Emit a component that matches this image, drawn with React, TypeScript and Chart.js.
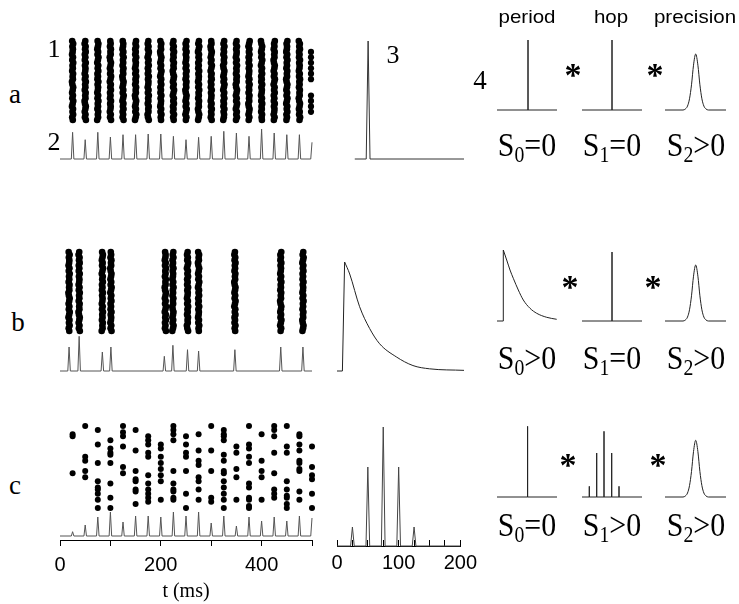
import React, { useEffect, useRef } from 'react';
import { Chart, registerables } from 'chart.js';
Chart.register(...registerables);

// ---------------- DATA ----------------
// time axis (ms) and lag axis (ms)
const timeTicks = [0, 100, 200, 300, 400, 500];
const timeLabels = [0, 200, 400];
const lagTicks = [0, 25, 50, 75, 100, 125, 150, 175, 200];
const lagLabels = [0, 100, 200];

// hand-read spike jitter (ms) used for the dense raster columns
const jitterMs = [0.4, -0.8, 1.1, -0.3, 0.9, -1.2, 0.2, 1.4, -0.6, 0.7, -1.0, 0.3, 1.2, -0.4, -1.3,
  0.6, 0.0, 1.0, -0.9, 0.5, -0.2, 1.3, -0.7, 0.8, -1.1, 0.1, 0.6, -0.5, 1.2, -0.8];

// row a
const aTrialCount = 30;
const aColumnTimes = [25, 50, 75, 100, 125, 150, 175, 200, 225, 250, 275, 300, 325, 350, 375, 400, 425, 450, 475];
const aTailTime = 498;
const aTailTrials = [25, 23, 21, 19, 17, 15, 9, 7, 5, 3];
const aPsthTimes = [25, 50, 75, 100, 125, 150, 175, 200, 225, 250, 275, 300, 325, 350, 375, 400, 425, 450, 475, 500];
const aPsthRates = [26.7, 19.3, 26.7, 22, 24.3, 24.3, 25, 25, 22.7, 19.3, 21.7, 22.7, 27.7, 26, 22.7, 30, 26, 24.3, 24.3, 16.7];
const aAutoLags = [28, 46, 49, 52, 200];
const aAutoValues = [0, 0, 1, 0, 0];

// row b
const bTrialCount = 30;
const bColumnTimes = [18, 38, 84, 101, 209, 224, 253, 275, 347, 438, 482];
const bPsthTimes = [18, 38, 84, 101, 207, 224, 253, 275, 347, 438, 482];
const bPsthRates = [24, 34.7, 19, 24, 14.7, 25.7, 21.3, 20, 21.3, 24, 24];
const bAutoLags = [0, 8.5, 12, 20, 35.6, 51.4, 67.1, 93.3, 119.6, 145.8, 200];
const bAutoValues = [0, 0, 1, 0.89, 0.59, 0.39, 0.25, 0.13, 0.05, 0.02, 0.006];

// row c
const cColumnTimes = [25, 50, 75, 100, 125, 150, 175, 200, 225, 250, 275, 300, 325, 350, 375, 400, 425, 450, 475, 500];
const cTrials = [
  [36, 35, 17],
  [40, 25, 23, 18, 15],
  [38, 31, 22, 13, 10, 9, 7, 4, 0],
  [33, 29, 27, 26, 22, 12, 5, 0],
  [40, 37, 35, 30, 20, 17],
  [38, 28, 18, 14, 13, 9, 8, 2],
  [35, 33, 31, 27, 25, 16, 12, 9, 7, 5, 3],
  [31, 29, 25, 22, 19, 16, 13, 4],
  [40, 38, 36, 33, 18, 12, 9, 8, 5, 4],
  [35, 31, 27, 25, 18, 7, 0],
  [36, 28, 23, 21, 15, 13, 9, 4],
  [40, 28, 18, 5, 3],
  [38, 36, 35, 33, 26, 23, 18, 17, 13, 10, 7, 4, 0],
  [30, 27, 19, 15, 4],
  [40, 31, 29, 25, 22, 12, 10, 5, 4, 1, 0],
  [36, 23, 18, 15, 4],
  [40, 38, 35, 27, 17, 9, 7, 5],
  [40, 30, 27, 13, 9, 6, 5, 2, 0],
  [36, 35, 31, 28, 23, 22, 19, 18, 8, 4],
  [30, 20, 16, 14, 7, 0],
];
const cPsthRates = [4.3, 11, 19, 24, 14, 20, 20, 19, 24, 20, 24, 13, 20, 10, 19, 15, 19, 15, 20, 18];
const cAutoLags = [25, 50, 75, 100, 125];
const cAutoValues = [19, 79, 119, 79, 19];

// decomposition panels (lag in arbitrary units 0..60, height 0..72)
const periodSpikeLag = [31, 30.6];          // rows a, c
const periodSpikeHeight = [70, 70.7];
const periodDecayLags = [6.3, 9.7, 13, 16.3, 21.3, 26.3, 33, 39.7, 49.7, 59.7]; // row b
const periodDecayValues = [71, 61, 51, 42.7, 31, 21, 12.7, 7.7, 3.7, 1.7];
const hopSpikeLagAB = 30;
const hopSpikeHeightA = 70;
const hopSpikeHeightB = 69;
const hopCLags = [7.3, 14.7, 22, 29.7, 37];
const hopCHeights = [10.7, 44, 65.7, 44, 10.7];
const precisionLags = [0, 18, 20.5, 22.5, 24.5, 26.5, 28.5, 30.7, 32.9, 34.9, 36.9, 38.9, 40.9, 43.4, 61];
const precisionShape = [0, 0.0, 0.02, 0.07, 0.2, 0.45, 0.8, 1, 0.8, 0.45, 0.2, 0.07, 0.02, 0, 0];
const precisionAmp = [56, 56, 56.7];

// ---------------- HELPERS ----------------
const SERIF = '"Liberation Serif", "Times New Roman", serif';
const SANS = '"Liberation Sans", Arial, sans-serif';
const P = 6;

type Pt = { x: number; y: number };

function line(data: Pt[], color = '#333', extra: any = {}) {
  return { data, showLine: true, borderColor: color, borderWidth: 1, pointRadius: 0, tension: 0, clip: false, ...extra };
}
function dots(data: Pt[], r: number) {
  return { data, showLine: false, pointRadius: r, pointBackgroundColor: '#000', backgroundColor: '#000', pointBorderWidth: 0, borderWidth: 0, clip: false };
}
function peaks(times: number[], heights: number[], hw: number, xMin: number, xMax: number): Pt[] {
  const pts: Pt[] = [{ x: xMin, y: 0 }];
  times.forEach((t, i) => {
    pts.push({ x: Math.max(xMin, t - hw), y: 0 }, { x: t, y: heights[i] });
    if (t + hw <= xMax) pts.push({ x: t + hw, y: 0 });
  });
  if (times[times.length - 1] + hw <= xMax) pts.push({ x: xMax, y: 0 });
  return pts;
}
function columns(times: number[], nTrials: number): Pt[] {
  const pts: Pt[] = [];
  times.forEach((t, i) => {
    for (let k = 0; k < nTrials; k++) pts.push({ x: t + jitterMs[(k + 7 * i) % jitterMs.length], y: k });
  });
  return pts;
}
function spike(lag: number, h: number, xMax: number): Pt[] {
  return [{ x: 0, y: 0 }, { x: lag, y: 0 }, { x: lag, y: h }, { x: lag, y: 0 }, { x: xMax, y: 0 }];
}
function multiSpikes(lags: number[], hs: number[], xMax: number): Pt[] {
  const pts: Pt[] = [{ x: 0, y: 0 }];
  lags.forEach((l, i) => pts.push({ x: l, y: 0 }, { x: l, y: hs[i] }, { x: l, y: 0 }));
  pts.push({ x: xMax, y: 0 });
  return pts;
}
function shape(xs: number[], ys: number[], amp: number): Pt[] {
  return xs.map((x, i) => ({ x, y: ys[i] * amp }));
}

type AxisDef = { ticks: number[]; labels: number[]; tickLen: number; pad: number; height: number; side: number; title?: string };
type PanelDef = {
  id: string; x0: number; x1: number; top: number; bottom: number;
  xr: [number, number]; yr: [number, number]; datasets: any[]; axis?: AxisDef;
};

function Panel({ def }: { def: PanelDef }) {
  const ref = useRef<HTMLCanvasElement>(null);
  const side = def.axis ? def.axis.side : P;
  const w = def.x1 - def.x0 + 2 * side;
  const h = def.bottom - def.top + P + (def.axis ? def.axis.height : P);
  useEffect(() => {
    const ax = def.axis;
    const xScale: any = ax
      ? {
          type: 'linear', min: def.xr[0], max: def.xr[1], display: true,
          afterFit: (s: any) => { s.height = ax.height; },
          afterBuildTicks: (s: any) => { s.ticks = ax.ticks.map((v) => ({ value: v })); },
          grid: { display: true, drawOnChartArea: false, drawTicks: true, tickLength: ax.tickLen, color: '#000', lineWidth: 1 },
          border: { display: true, color: '#000', width: 1 },
          ticks: {
            autoSkip: false, maxRotation: 0, padding: ax.pad, color: '#000',
            font: { family: SANS, size: 20 },
            callback: (v: any) => (ax.labels.includes(Number(v)) ? String(v) : ''),
          },
          title: ax.title
            ? { display: true, text: ax.title, color: '#000', font: { family: SERIF, size: 20 }, padding: { top: 0, bottom: 0 } }
            : { display: false },
        }
      : { type: 'linear', min: def.xr[0], max: def.xr[1], display: false };
    const chart = new Chart(ref.current as HTMLCanvasElement, {
      type: 'scatter',
      data: { datasets: def.datasets },
      options: {
        responsive: false,
        animation: false,
        devicePixelRatio: 1,
        events: [],
        layout: { padding: { left: side, right: side, top: P, bottom: ax ? 0 : P } },
        plugins: { legend: { display: false }, tooltip: { enabled: false } },
        scales: {
          x: xScale,
          y: { type: 'linear', min: def.yr[0], max: def.yr[1], display: false },
        },
      } as any,
    });
    return () => chart.destroy();
  }, []);
  return (
    <canvas
      ref={ref}
      width={w}
      height={h}
      style={{ position: 'absolute', left: def.x0 - side, top: def.top - P, width: w, height: h }}
    />
  );
}

function Txt({ x, y, size, family = SERIF, children, weight = 'normal', sx = 1 }: any) {
  return (
    <div
      style={{
        position: 'absolute', left: x, top: y, transform: `translate(-50%, -50%) scaleX(${sx})`,
        fontFamily: family, fontSize: size, lineHeight: 1, whiteSpace: 'nowrap', color: '#000', fontWeight: weight,
      }}
    >
      {children}
    </div>
  );
}

function SLabel({ x, y, idx, rel }: any) {
  return (
    <Txt x={x} y={y} size={34} sx={0.88}>
      S<span style={{ fontSize: '0.66em', position: 'relative', top: '0.28em' }}>{idx}</span>{rel}0
    </Txt>
  );
}

// ---------------- PANELS ----------------
const PSTH_HW = 2.5;
const panels: PanelDef[] = [
  // row a
  { id: 'rasterA', x0: 60, x1: 312, top: 41, bottom: 120, xr: [0, 500], yr: [0, aTrialCount - 1],
    datasets: [dots(columns(aColumnTimes, aTrialCount), 3.3), dots(aTailTrials.map((k) => ({ x: aTailTime, y: k })), 3.1)] },
  { id: 'psthA', x0: 60, x1: 312, top: 129, bottom: 159, xr: [0, 500], yr: [0, 30],
    datasets: [line(peaks(aPsthTimes, aPsthRates, PSTH_HW, 0, 500), '#555')] },
  { id: 'autoA', x0: 337, x1: 464, top: 41, bottom: 159, xr: [0, 200], yr: [0, 1],
    datasets: [line(aAutoLags.map((x, i) => ({ x, y: aAutoValues[i] })), '#333')] },
  { id: 'perA', x0: 497, x1: 557, top: 38, bottom: 110, xr: [0, 60], yr: [0, 72],
    datasets: [line(spike(periodSpikeLag[0], periodSpikeHeight[0], 60), '#222')] },
  { id: 'hopA', x0: 582, x1: 642, top: 38, bottom: 110, xr: [0, 60], yr: [0, 72],
    datasets: [line(spike(hopSpikeLagAB, hopSpikeHeightA, 60), '#222')] },
  { id: 'preA', x0: 665, x1: 726, top: 38, bottom: 110, xr: [0, 61], yr: [0, 72],
    datasets: [line(shape(precisionLags, precisionShape, precisionAmp[0]), '#222', { cubicInterpolationMode: 'monotone' })] },

  // row b
  { id: 'rasterB', x0: 60, x1: 312, top: 252, bottom: 331, xr: [0, 500], yr: [0, bTrialCount - 1],
    datasets: [dots(columns(bColumnTimes, bTrialCount), 3.3)] },
  { id: 'psthB', x0: 60, x1: 312, top: 341, bottom: 371, xr: [0, 500], yr: [0, 30],
    datasets: [line(peaks(bPsthTimes, bPsthRates, PSTH_HW, 0, 500), '#555')] },
  { id: 'autoB', x0: 337, x1: 464, top: 262, bottom: 371, xr: [0, 200], yr: [0, 1],
    datasets: [line(bAutoLags.slice(0, 3).map((x, i) => ({ x, y: bAutoValues[i] })), '#222'),
      line(bAutoLags.slice(2).map((x, i) => ({ x, y: bAutoValues[i + 2] })), '#222', { cubicInterpolationMode: 'monotone' })] },
  { id: 'perB', x0: 497, x1: 557, top: 249, bottom: 321, xr: [0, 60], yr: [0, 72],
    datasets: [line([{ x: 0, y: 0 }, { x: periodDecayLags[0], y: 0 }, { x: periodDecayLags[0], y: periodDecayValues[0] }], '#222'),
      line(periodDecayLags.map((x, i) => ({ x, y: periodDecayValues[i] })), '#222', { cubicInterpolationMode: 'monotone' })] },
  { id: 'hopB', x0: 582, x1: 642, top: 249, bottom: 321, xr: [0, 60], yr: [0, 72],
    datasets: [line(spike(hopSpikeLagAB, hopSpikeHeightB, 60), '#222')] },
  { id: 'preB', x0: 665, x1: 726, top: 249, bottom: 321, xr: [0, 61], yr: [0, 72],
    datasets: [line(shape(precisionLags, precisionShape, precisionAmp[1]), '#222', { cubicInterpolationMode: 'monotone' })] },

  // row c
  { id: 'rasterC', x0: 60, x1: 312, top: 426, bottom: 508, xr: [0, 500], yr: [0, 40],
    datasets: [dots(cColumnTimes.flatMap((t, i) => cTrials[i].map((k) => ({ x: t, y: k }))), 3)] },
  { id: 'psthC', x0: 60, x1: 312, top: 506, bottom: 540, xr: [0, 500], yr: [-4, 30],
    axis: { ticks: timeTicks, labels: timeLabels, tickLen: 6, pad: 7, height: 64, side: 20, title: 't (ms)' },
    datasets: [line(peaks(cColumnTimes, cPsthRates, PSTH_HW, 0, 500), '#555')] },
  { id: 'autoC', x0: 337, x1: 464, top: 426, bottom: 546, xr: [0, 200], yr: [0, 120],
    axis: { ticks: lagTicks, labels: lagLabels, tickLen: -6, pad: 11, height: 40, side: 24 },
    datasets: [line(peaks(cAutoLags, cAutoValues, 3, 0, 200), '#444')] },
  { id: 'perC', x0: 497, x1: 557, top: 425, bottom: 497, xr: [0, 60], yr: [0, 72],
    datasets: [line(spike(periodSpikeLag[1], periodSpikeHeight[1], 60), '#222')] },
  { id: 'hopC', x0: 582, x1: 642, top: 425, bottom: 497, xr: [0, 60], yr: [0, 72],
    datasets: [line(multiSpikes(hopCLags, hopCHeights, 60), '#222')] },
  { id: 'preC', x0: 665, x1: 726, top: 425, bottom: 497, xr: [0, 61], yr: [0, 72],
    datasets: [line(shape(precisionLags, precisionShape, precisionAmp[2]), '#222', { cubicInterpolationMode: 'monotone' })] },
];

export default function App() {
  return (
    <div style={{ position: 'fixed', left: 0, top: 0, width: 739, height: 604, background: '#fff', overflow: 'hidden' }}>
      {panels.map((p) => <Panel key={p.id} def={p} />)}

      {/* row letters and panel numbers */}
      <Txt x={15} y={94} size={27}>a</Txt>
      <Txt x={18} y={322} size={27}>b</Txt>
      <Txt x={15} y={485} size={27}>c</Txt>
      <Txt x={54} y={49} size={26}>1</Txt>
      <Txt x={54} y={142} size={26}>2</Txt>
      <Txt x={393} y={55} size={26}>3</Txt>
      <Txt x={480} y={80} size={27}>4</Txt>

      {/* column titles */}
      <Txt x={527} y={16} size={19} family={SANS} sx={1.08}>period</Txt>
      <Txt x={611} y={16} size={19} family={SANS} sx={1.08}>hop</Txt>
      <Txt x={695} y={16} size={19} family={SANS} sx={1.08}>precision</Txt>

      {/* asterisks */}
      <Txt x={573} y={75} size={34} weight="bold">*</Txt>
      <Txt x={655} y={75} size={34} weight="bold">*</Txt>
      <Txt x={570} y={287} size={34} weight="bold">*</Txt>
      <Txt x={653} y={287} size={34} weight="bold">*</Txt>
      <Txt x={568} y={465} size={34} weight="bold">*</Txt>
      <Txt x={658} y={465} size={34} weight="bold">*</Txt>

      {/* S labels */}
      <SLabel x={527} y={145} idx="0" rel="=" />
      <SLabel x={612} y={145} idx="1" rel="=" />
      <SLabel x={696} y={145} idx="2" rel=">" />
      <SLabel x={527} y={358} idx="0" rel=">" />
      <SLabel x={612} y={358} idx="1" rel="=" />
      <SLabel x={696} y={358} idx="2" rel=">" />
      <SLabel x={527} y={525} idx="0" rel="=" />
      <SLabel x={612} y={525} idx="1" rel=">" />
      <SLabel x={696} y={525} idx="2" rel=">" />
    </div>
  );
}
